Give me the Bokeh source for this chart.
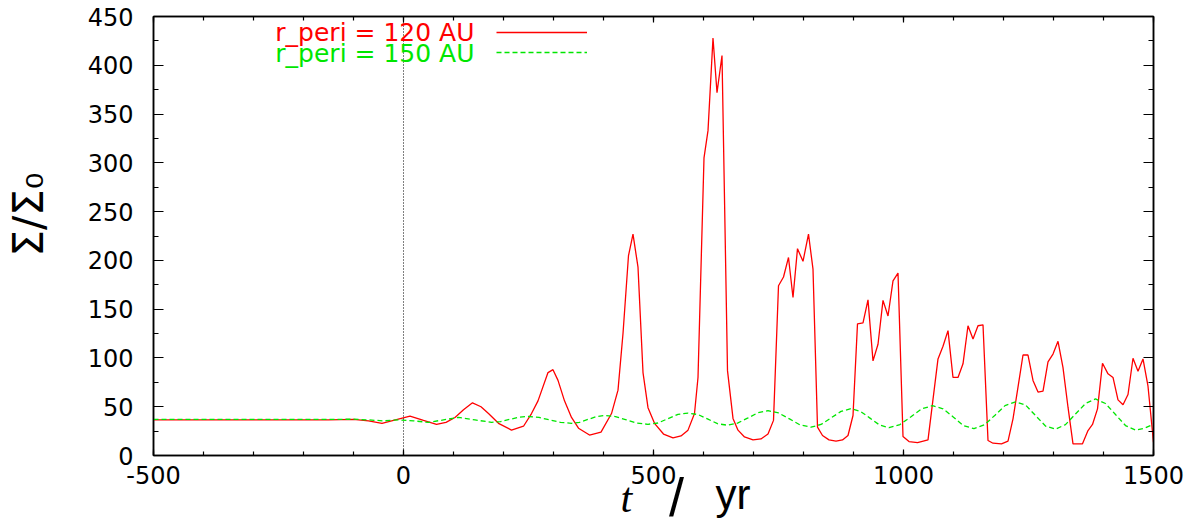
import numpy as np
from bokeh.plotting import figure
from bokeh.models import (Range1d, FixedTicker, LinearAxis, Span,
                          Label, Legend, LegendItem)
from bokeh.core.properties import value
from bokeh.embed import file_html
from bokeh.resources import INLINE

# ---------------- data ----------------
red_t = [-500, -150, -100, -70, -43, -20, 13, 40, 66, 85,
         103, 120, 138, 155, 170, 190, 216, 240, 256, 269,
         289, 299, 309, 322, 336, 350, 372, 395, 416, 429,
         439, 450, 459, 469, 479, 489, 502, 520, 539, 555,
         569, 582, 589, 601, 609, 619, 627, 637, 648, 659,
         669, 682, 699, 715, 729, 740, 750, 760, 770, 779,
         788, 799, 810, 819, 828, 838, 851, 865, 878, 889,
         899, 908, 919, 929, 939, 949, 959, 969, 979, 989,
         999, 1011, 1028, 1049, 1069, 1079, 1089, 1099, 1109, 1119,
         1129, 1139, 1149, 1159, 1169, 1179, 1196, 1209, 1219, 1229,
         1239, 1249, 1259, 1269, 1279, 1289, 1299, 1309, 1319, 1329,
         1339, 1358, 1369, 1378, 1388, 1398, 1409, 1419, 1429, 1439,
         1449, 1459, 1469, 1479, 1489, 1500]
red_v = [36.5, 36.5, 37, 35.5, 33, 36, 40.3, 36, 32, 34,
         39, 47, 54, 50, 43, 33, 26, 30, 43, 56,
         85, 88, 77, 56, 39, 28, 21, 24, 43, 67,
         125, 205, 227, 193, 85, 49, 33, 22, 18, 20,
         26, 43, 80, 305, 333, 428, 372, 410, 87, 38,
         26, 19, 16, 17, 22, 36, 174, 183, 203, 162,
         212, 199, 227, 191, 29, 20.5, 16, 14.7, 16, 20.5,
         41, 135, 136, 159.5, 97, 114, 159, 143, 179, 187,
         19.5, 14.3, 13.3, 16, 99, 112, 128, 80, 80, 94,
         133, 119.5, 133, 134, 15.4, 12.6, 12, 14.7, 37.6, 70,
         103, 103, 77, 65, 66, 96, 104, 117, 90, 49.5,
         12, 12, 25.6, 31.8, 47.8, 94.6, 83.7, 80, 57, 52,
         62.5, 99.7, 86.4, 99, 71, 13.6]

green_t = [-500, -150, -100, -70, -40, -10, 20, 50, 80, 110,
           143, 176, 194, 212, 231, 249, 271, 292, 314, 336,
           352, 369, 386, 402, 424, 446, 467, 489, 509, 529,
           549, 569, 589, 609, 628, 648, 668, 689, 709, 729,
           750, 772, 793, 815, 835, 855, 875, 895, 914, 933,
           952, 971, 993, 1015, 1036, 1058, 1079, 1100, 1120, 1141,
           1162, 1183, 1203, 1224, 1244, 1264, 1284, 1304, 1324, 1344,
           1364, 1384, 1404, 1424, 1444, 1464, 1482, 1500]
green_v = [37, 37, 37.2, 36.5, 35.5, 36.5, 35.5, 34, 36.5, 39,
           36.5, 34, 34.7, 37, 39.3, 40, 39, 36.5, 34, 33,
           34, 37, 39.9, 41, 39.9, 36.5, 33.2, 32, 33.3, 37.8,
           42.2, 43.5, 42, 37.3, 32.6, 31, 33.2, 38.5, 43.8, 46,
           43.6, 37.5, 31.4, 29, 31.8, 38.5, 45.2, 48, 45.2, 38.3,
           31.3, 28.5, 31.7, 39.8, 47.8, 51, 47.9, 39.3, 30.6, 27.5,
           31.5, 41.3, 51.1, 55, 51.8, 41, 30.2, 27, 31.7, 42.5,
           53.3, 58, 53.3, 42, 30.7, 26, 28, 32]

x_major = [-500, 0, 500, 1000, 1500]
x_major_text = {-500: "-500", 0: "0", 500: "500", 1000: "1000", 1500: "1500"}
x_minor = list(range(-500, 1501, 100))
y_major = list(range(0, 451, 50))
y_minor = list(range(0, 451, 25))

series_labels = ["r_peri = 120 AU", "r_peri = 150 AU"]
x_label_parts = ["t", "/", "yr"]
y_label_text = "\u03a3/\u03a3\u2080"

RED = "#ff0000"
GREEN = "#00e600"
TICK_FONT = "DejaVu Sans"

p = figure(width=1196, height=529, output_backend="svg", toolbar_location=None,
           x_range=Range1d(-500, 1500), y_range=Range1d(0, 450),
           min_border_left=151, min_border_right=43, min_border_top=16,
           min_border_bottom=74, background_fill_color="white",
           border_fill_color="white")
p.xgrid.visible = False
p.ygrid.visible = False
p.outline_line_color = "black"
p.outline_line_width = 1.5


def style_ticks(ax, major_in, minor_in):
    ax.axis_line_color = "black"
    ax.axis_line_width = 1.5
    ax.major_tick_in = major_in
    ax.major_tick_out = 0
    ax.minor_tick_in = minor_in
    ax.minor_tick_out = 0
    ax.major_tick_line_width = 1.2
    ax.minor_tick_line_width = 1.2
    ax.major_tick_line_color = "black"
    ax.minor_tick_line_color = "black"


p.xaxis.ticker = FixedTicker(ticks=x_major, minor_ticks=x_minor)
p.yaxis.ticker = FixedTicker(ticks=y_major, minor_ticks=y_minor)
p.xaxis.major_label_overrides = x_major_text
style_ticks(p.xaxis[0], 6, 4)
style_ticks(p.yaxis[0], 10, 5)
for ax in (p.xaxis[0], p.yaxis[0]):
    ax.major_label_text_font = TICK_FONT
    ax.major_label_text_font_size = "24px"
    ax.major_label_text_color = "black"
p.xaxis.major_label_standoff = 10
p.yaxis.major_label_standoff = 20

# mirrored tick marks (top and right), no labels
for side, minors, majors, mj, mn in [("above", x_minor, x_major, 6, 4),
                                     ("right", y_minor, y_major, 10, 5)]:
    a1 = LinearAxis(ticker=FixedTicker(ticks=[], minor_ticks=minors))
    style_ticks(a1, 0, mn)
    p.add_layout(a1, side)
    a2 = LinearAxis(ticker=FixedTicker(ticks=[], minor_ticks=majors))
    style_ticks(a2, 0, mj)
    a2.axis_line_alpha = 0
    p.add_layout(a2, side)

# dotted zero line
p.add_layout(Span(location=0, dimension="height", line_color="black",
                  line_dash="1 2", line_width=1))

r_line = p.line(red_t, red_v, line_color=RED, line_width=1.3)
g_line = p.line(green_t, green_v, line_color=GREEN, line_width=1.3, line_dash="5 3")

# legend samples (gnuplot style: text left, sample right)
legend = Legend(items=[LegendItem(label=value(""), renderers=[r_line]),
                       LegendItem(label=value(""), renderers=[g_line])],
                location=(343, 393), glyph_width=91, glyph_height=20,
                label_width=0, label_standoff=0, padding=0, margin=0, spacing=0,
                border_line_alpha=0, background_fill_alpha=0,
                label_text_font_size="1px", label_height=0)
p.add_layout(legend)

for txt, col, yy in [(series_labels[0], RED, 423), (series_labels[1], GREEN, 402.5)]:
    p.add_layout(Label(x=321, y=yy, x_units="screen", y_units="screen", text=txt,
                       text_align="right", text_baseline="middle", text_color=col,
                       text_font="DejaVu Sans", text_font_size="25px"))

# axis titles, placed in side panels (not clipped), canvas coordinates
p.add_layout(Label(x=620, y=497, x_units="canvas", y_units="canvas", text=x_label_parts[0],
                   text_font="Liberation Serif", text_font_style="italic",
                   text_font_size="42px", text_color="black", text_baseline="alphabetic"),
             "right")
p.add_layout(Label(x=676, y=496, x_units="canvas", y_units="canvas", text=x_label_parts[1],
                   text_font="Liberation Sans", text_font_size="54px", text_color="black",
                   text_align="center", text_baseline="alphabetic"), "right")
p.add_layout(Label(x=715, y=494, x_units="canvas", y_units="canvas", text=x_label_parts[2],
                   text_font="Liberation Sans", text_font_size="42px", text_color="black",
                   text_baseline="alphabetic"), "left")
p.add_layout(Label(x=28, y=256, x_units="canvas", y_units="canvas", text=y_label_text,
                   angle=np.pi / 2, text_font="DejaVu Sans", text_font_size="42px",
                   text_color="black", text_align="left", text_baseline="alphabetic"),
             "left")

open("out.html", "w").write(file_html(p, INLINE))
